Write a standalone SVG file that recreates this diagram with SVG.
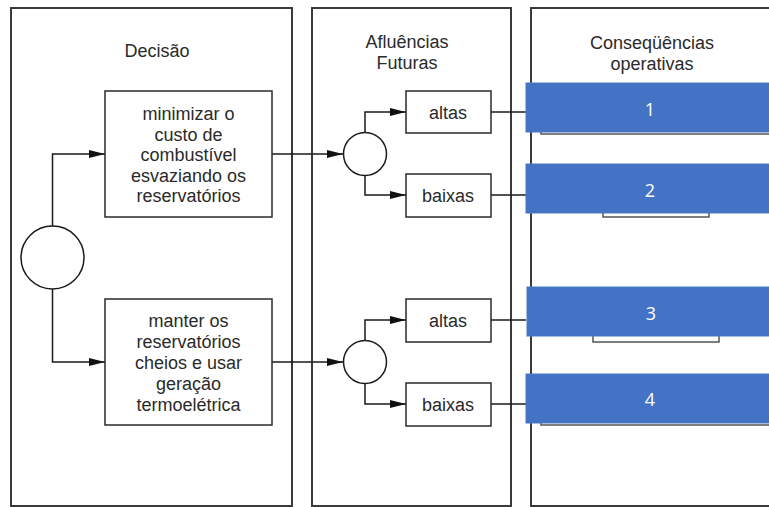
<svg xmlns="http://www.w3.org/2000/svg" width="769" height="507" viewBox="0 0 769 507">
<defs>
<style>
.panel{fill:none;stroke:#3a3a3a;stroke-width:2}
.box{fill:#fff;stroke:#2a2a2a;stroke-width:1.5}
.circ{fill:#fff;stroke:#1a1a1a;stroke-width:1.5}
.t{font-family:"Liberation Sans",Arial,sans-serif;font-size:18px;fill:#2a2a2a;text-anchor:middle}
.con{fill:none;stroke:#1a1a1a;stroke-width:1.5}
.arr{fill:none;stroke:#1a1a1a;stroke-width:1.5;marker-end:url(#ah)}
.blue{fill:#4472C4;stroke:#4a78c8;stroke-width:1}
.under{fill:#fff;stroke:#555;stroke-width:1.5}
.num{font-family:"Open Sans","Liberation Sans",sans-serif;font-size:18px;fill:#fff;text-anchor:middle}
</style>
<marker id="ah" markerWidth="16" markerHeight="8" refX="16" refY="4" orient="auto" markerUnits="userSpaceOnUse">
<path d="M0,0 L16,4 L0,8 Z" fill="#111"/>
</marker>
</defs>
<rect width="769" height="507" fill="#fff"/>
<g id="panels">
<rect class="panel" x="11" y="8" width="281" height="498"/>
<rect class="panel" x="312" y="8" width="199" height="498"/>
<rect class="panel" x="531" y="8" width="260" height="498"/>
<text class="t" x="157" y="57">Decisão</text>
<text class="t" x="407" y="48">Afluências</text>
<text class="t" x="407" y="69">Futuras</text>
<text class="t" x="652" y="49">Conseqüências</text>
<text class="t" x="652" y="70">operativas</text>
</g>
<g id="connectors">
<path class="arr" d="M52.5,226 V154 H105"/>
<path class="arr" d="M52.5,289 V362 H105"/>
<path class="arr" d="M272,154 H343"/>
<path class="arr" d="M272,362 H343"/>
<path class="arr" d="M365,133 V112 H406"/>
<path class="arr" d="M365,175 V195 H406"/>
<path class="arr" d="M365,341 V320 H406"/>
<path class="arr" d="M365,383 V404 H406"/>
<path class="con" d="M491,112 H526"/>
<path class="con" d="M491,195 H526"/>
<path class="con" d="M491,320 H526"/>
<path class="con" d="M491,404 H526"/>
</g>
<g id="root"><circle class="circ" cx="52.5" cy="257.5" r="31.5"/></g>
<g id="dec1">
<rect class="box" x="105" y="91" width="167" height="126"/>
<text class="t" x="188.5" y="120">minimizar o</text>
<text class="t" x="188.5" y="140.5">custo de</text>
<text class="t" x="188.5" y="161">combustível</text>
<text class="t" x="188.5" y="181.5">esvaziando os</text>
<text class="t" x="188.5" y="202">reservatórios</text>
</g>
<g id="dec2">
<rect class="box" x="105" y="299" width="167" height="126"/>
<text class="t" x="188.5" y="327">manter os</text>
<text class="t" x="188.5" y="348">reservatórios</text>
<text class="t" x="188.5" y="369">cheios e usar</text>
<text class="t" x="188.5" y="390">geração</text>
<text class="t" x="188.5" y="411">termoelétrica</text>
</g>
<g id="chance1"><circle class="circ" cx="365" cy="154" r="21.5"/></g>
<g id="chance2"><circle class="circ" cx="365" cy="362" r="21.5"/></g>
<g id="altas1"><rect class="box" x="406" y="91" width="85" height="42"/><text class="t" x="448" y="119">altas</text></g>
<g id="baixas1"><rect class="box" x="406" y="174" width="85" height="43"/><text class="t" x="448" y="202">baixas</text></g>
<g id="altas2"><rect class="box" x="406" y="299" width="85" height="43"/><text class="t" x="448" y="327">altas</text></g>
<g id="baixas2"><rect class="box" x="406" y="383" width="85" height="43"/><text class="t" x="448" y="411">baixas</text></g>
<g id="cons1"><rect class="under" x="541" y="110" width="240" height="24"/><rect class="blue" x="526" y="83" width="250" height="49"/><text class="num" x="650" y="116">1</text></g>
<g id="cons2"><rect class="under" x="603" y="200" width="106" height="17"/><rect class="blue" x="526" y="164" width="250" height="49"/><text class="num" x="650" y="197">2</text></g>
<g id="cons3"><rect class="under" x="593" y="325" width="126" height="17"/><rect class="blue" x="527" y="287" width="250" height="49"/><text class="num" x="651" y="320">3</text></g>
<g id="cons4"><rect class="under" x="541" y="400" width="240" height="25"/><rect class="blue" x="526" y="374" width="250" height="49"/><text class="num" x="650" y="406">4</text></g>
</svg>
